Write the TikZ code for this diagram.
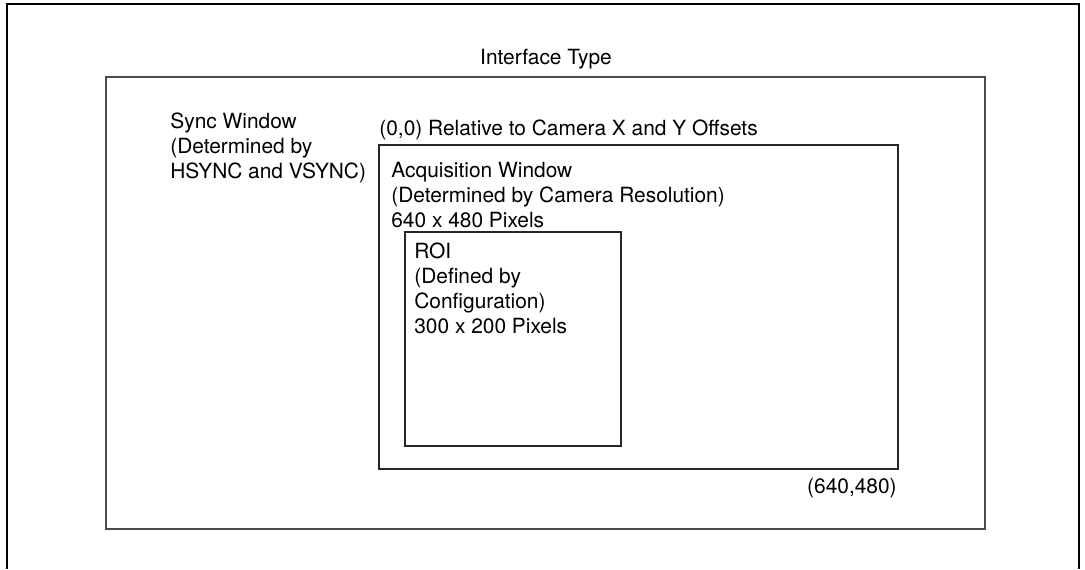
\documentclass[tikz,border=0pt]{standalone}
\usepackage{fontspec}
\setmainfont{TeX Gyre Heros}
\usepackage{tikz}

\begin{document}
\begin{tikzpicture}[x=0.02cm, y=-0.02cm,
  every node/.style={inner sep=0pt, font=\fontsize{11.9}{14.2}\selectfont},
  lbl/.style={anchor=base west, align=left},
  frameline/.style={line width=1.1pt, black},
  boxline/.style={line width=0.75pt, black!70},
  winline/.style={line width=0.6pt, black!85}]
  \useasboundingbox (0,0) rectangle (1085,569);
  % outer frame, cut off below
  \draw[frameline] (7,569) -- (7,4) -- (1079,4) -- (1079,569);
  % interface type
  \draw[boxline] (106,77) rectangle (985,529);
  \node[anchor=base] (iface) at (546,64) {Interface Type};
  \node[lbl] (sync) at (170,178) {Sync Window\\(Determined by\\HSYNC and VSYNC)};
  % acquisition window
  \node[lbl] (origin) at (379,135) {(0,0) Relative to Camera X and Y Offsets};
  \draw[winline] (379,145) rectangle (898,469);
  \node[lbl] (acq) at (391,227) {Acquisition Window\\(Determined by Camera Resolution)\\640 x 480 Pixels};
  \node[anchor=base east] (corner) at (897,493) {(640,480)};
  % roi
  \draw[winline] (405,232) rectangle (621,446);
  \node[lbl] (roi) at (414,333) {ROI\\(Defined by\\Configuration)\\300 x 200 Pixels};
\end{tikzpicture}
\end{document}
